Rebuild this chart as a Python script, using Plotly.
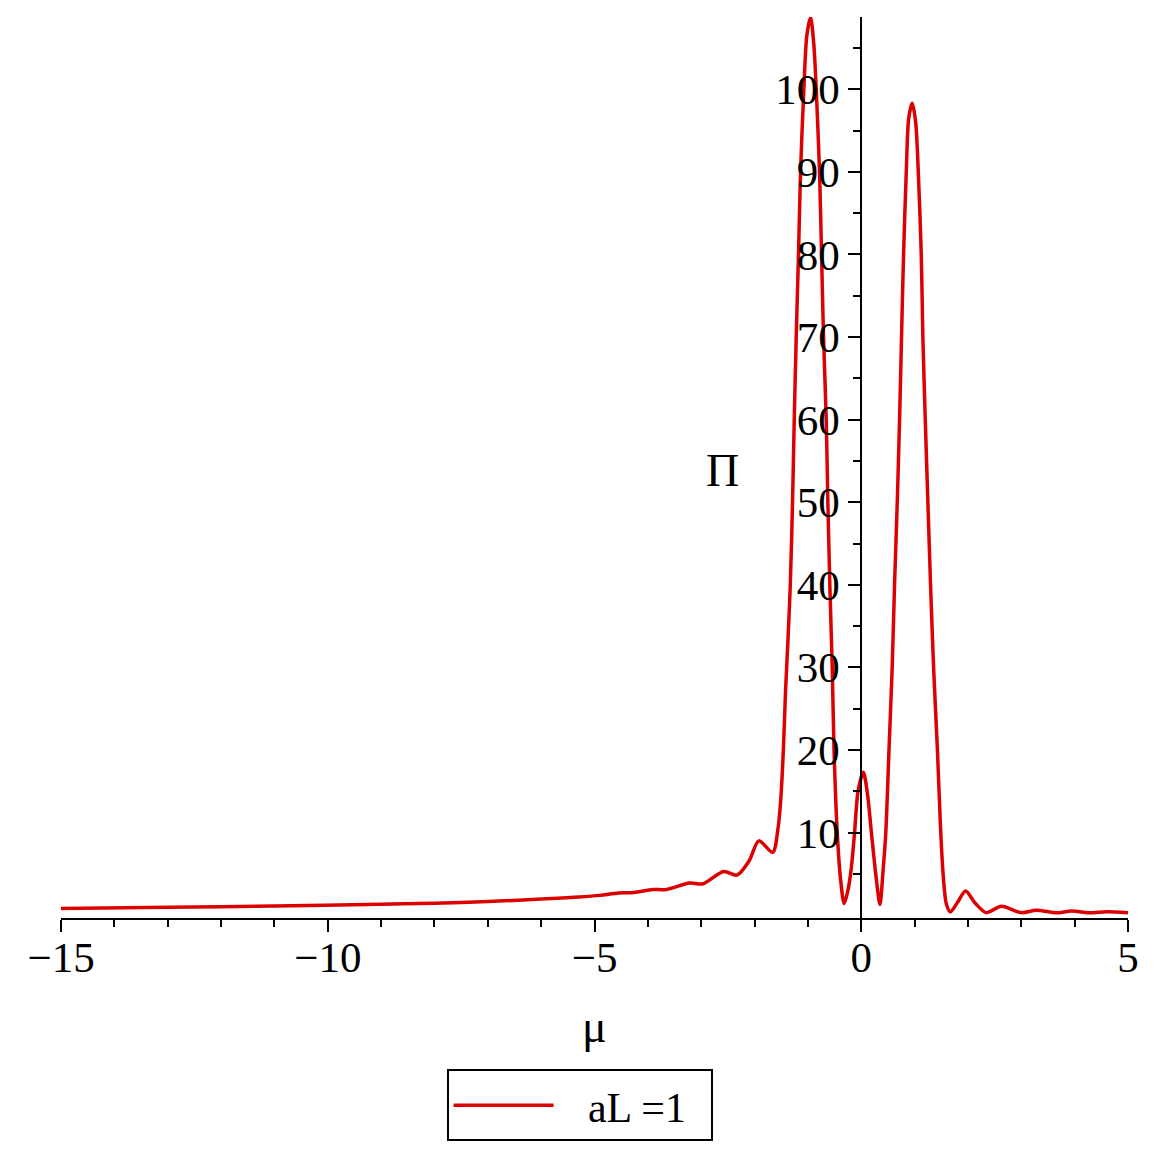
import plotly.graph_objects as go

# Data
mu = [-15, -13, -11, -9, -8, -7, -6, -5.3, -4.9, -4.55, -4.3, -3.9, -3.65,
      -3.22, -2.97, -2.58, -2.33, -2.1, -1.92, -1.66, -1.56, -1.51, -1.46,
      -1.42, -1.376, -1.33, -1.288, -1.256, -1.219, -1.176, -1.138, -1.076,
      -1.02, -0.95, -0.89, -0.844, -0.782, -0.744, -0.707, -0.656, -0.626,
      -0.589, -0.544, -0.51, -0.45, -0.39, -0.32, -0.25, -0.19, -0.125,
      -0.06, 0.04, 0.12, 0.19, 0.28, 0.35, 0.41, 0.46, 0.52, 0.58, 0.624,
      0.675, 0.718, 0.755, 0.793, 0.844, 0.89, 0.956, 1.02, 1.069, 1.125,
      1.155, 1.2, 1.249, 1.299, 1.356, 1.428, 1.48, 1.53, 1.594, 1.67, 1.80,
      1.956, 2.13, 2.344, 2.625, 3.0, 3.28, 3.66, 3.94, 4.28, 4.59, 5.0]
Pi = [0.8, 0.95, 1.12, 1.33, 1.45, 1.65, 1.95, 2.2, 2.4, 2.68, 2.73, 3.1, 3.12,
      3.9, 3.8, 5.3, 4.85, 6.6, 9.0, 7.6, 10.5, 13.9, 20,
      27, 33, 40, 50, 60, 70, 80, 90, 100,
      106.5, 108.7, 105.5, 100, 90, 80, 70, 60, 50,
      40, 30, 20, 10, 4.5, 1.4, 3.0, 5.5, 10,
      15, 17.3, 14.5, 10, 4.5, 1.3, 5.5, 10, 20, 30, 40,
      50, 60, 70, 80, 90, 96.5, 98.3, 96, 90, 80,
      70, 60, 50, 40, 30, 20, 11.5, 5.4, 1.4, 0.4, 1.5,
      2.93, 1.5, 0.31, 1.08, 0.31, 0.59, 0.29, 0.5, 0.29, 0.42, 0.31]

x_ticks = [-15, -10, -5, 0, 5]
x_ticktext = ["\u221215", "\u221210", "\u22125", "0", "5"]
y_ticks = [10, 20, 30, 40, 50, 60, 70, 80, 90, 100]
y_minor = [5, 15, 25, 35, 45, 55, 65, 75, 85, 95, 105]
series_name = "\u00a0\u00a0\u2009aL =1\u00a0\u2009"

FONT = "Liberation Serif, Times New Roman, serif"
RED = "rgb(220,0,0)"

fig = go.Figure()
fig.add_trace(go.Scatter(
    x=mu, y=Pi, mode="lines", name=series_name,
    line=dict(color=RED, width=3.5, shape="spline", smoothing=0.8),
    showlegend=True,
))

fig.update_layout(
    width=1156, height=1156,
    margin=dict(l=53, r=36, t=9, b=246, autoexpand=False),
    paper_bgcolor="white", plot_bgcolor="white",
    font=dict(family=FONT, size=42, color="black"),
    showlegend=True,
    legend=dict(
        x=0.486, y=-0.168, xanchor="center", yanchor="top",
        bordercolor="black", borderwidth=2, bgcolor="white",
        font=dict(family=FONT, size=42, color="black"),
        itemwidth=100,
    ),
    xaxis=dict(
        range=[-15, 5], showgrid=False, zeroline=False, automargin=False,
        showline=True, linecolor="black", linewidth=2,
        ticks="outside", ticklen=12, tickwidth=2, tickcolor="black",
        tickvals=x_ticks, ticktext=x_ticktext, ticklabelstandoff=-12,
        tickfont=dict(family=FONT, size=43),
        minor=dict(dtick=1, tick0=0, ticks="outside", ticklen=7,
                   tickwidth=2, tickcolor="black"),
    ),
    yaxis=dict(
        range=[-0.34, 108.75], showgrid=False, zeroline=False, automargin=False,
        anchor="free", position=0.75,
        showline=True, linecolor="black", linewidth=2,
        ticks="outside", ticklen=12, tickwidth=2, tickcolor="black",
        tickvals=y_ticks,
        tickfont=dict(family=FONT, size=43),
        minor=dict(tickvals=y_minor, ticks="outside", ticklen=7,
                   tickwidth=2, tickcolor="black"),
    ),
    annotations=[
        dict(text="\u03bc", x=0.5, y=-0.09, xref="paper", yref="paper",
             xanchor="center", yanchor="top", showarrow=False,
             font=dict(family=FONT, size=46)),
        dict(text="\u03a0", x=0.62, y=0.497, xref="paper", yref="paper",
             xanchor="center", yanchor="middle", showarrow=False,
             font=dict(family=FONT, size=46)),
    ],
)

fig.write_html("out.html")
